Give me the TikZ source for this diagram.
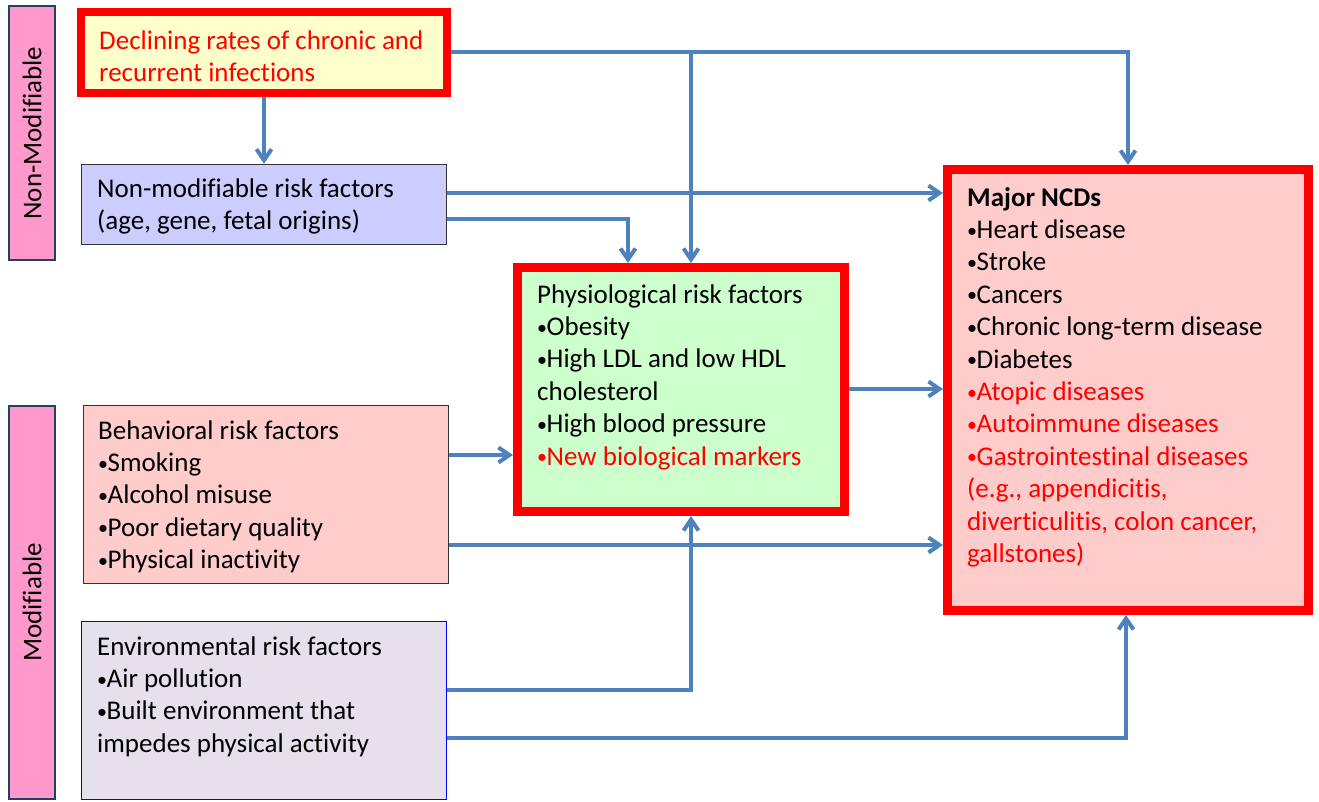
\documentclass[tikz,border=0pt]{standalone}
\usepackage{fontspec}
\setmainfont{Carlito}[Ligatures=NoCommon]
\usetikzlibrary{arrows.meta}
\definecolor{arrblue}{HTML}{4F81BD}
\definecolor{barpink}{HTML}{FF99CC}
\definecolor{barline}{HTML}{243F60}
\definecolor{declfill}{HTML}{FFFFCC}
\definecolor{nmfill}{HTML}{CCCCFF}
\definecolor{behfill}{HTML}{FFCCCC}
\definecolor{envfill}{HTML}{E6E0EC}
\definecolor{physfill}{HTML}{CCFFCC}
\definecolor{ncdfill}{HTML}{FFCCCC}
\definecolor{redtxt}{HTML}{FF0000}
\newcommand{\bul}{\makebox[9.5pt][l]{\raisebox{1.5pt}{\fontsize{20}{20}\selectfont •}}}
\begin{document}
\begin{tikzpicture}[x=1pt,y=-1pt,
  every node/.style={font=\fontsize{27}{32.4}\selectfont},
  txt/.style={anchor=north west, inner sep=0pt, align=left},
  sidebar/.style={draw=barline, line width=2pt, fill=barpink, rotate=90, minimum height=46pt, inner sep=0pt},
  boxbase/.style={inner sep=0pt},
  redbox/.style={boxbase, draw=red, line width=9pt},
  thinbox/.style={boxbase, draw=black!80, line width=1.5pt},
  arr/.style={draw=arrblue, line width=4pt, -{Straight Barb[length=11pt,width=15pt]}},
]
\useasboundingbox (0,0) rectangle (1319,802);

% side bars
\node[sidebar, minimum width=254pt] (nmbar) at (32,133) {Non-Modifiable};
\node[sidebar, minimum width=393pt] (mbar) at (32,602.5) {Modifiable};

% boxes
\node[redbox, line width=8pt, fill=declfill, minimum width=366pt, minimum height=81pt] (decl) at (264,52.5) {};
\node[thinbox, fill=nmfill, minimum width=365pt, minimum height=80pt] (nonmod) at (264,204.5) {};
\node[thinbox, fill=behfill, minimum width=365pt, minimum height=178pt] (behav) at (266,494.5) {};
\node[boxbase, draw=blue, line width=1.5pt, fill=envfill, minimum width=365pt, minimum height=178pt] (env) at (264,710.5) {};
\node[redbox, fill=physfill, minimum width=327pt, minimum height=244pt] (phys) at (681,389.5) {};
\node[redbox, fill=ncdfill, minimum width=361pt, minimum height=441pt] (ncd) at (1128,390) {};

% texts
\node[txt, text=redtxt] (declt) at (99,26.3) {\strut Declining rates of chronic and\\recurrent infections};
\node[txt] (nonmodt) at (97,174.3) {\strut Non-modifiable risk factors\\(age, gene, fetal origins)};
\node[txt] (behavt) at (98,416.3) {\strut Behavioral risk factors\\\bul Smoking\\\bul Alcohol misuse\\\bul Poor dietary quality\\\bul Physical inactivity};
\node[txt] (envt) at (97,632.3) {\strut Environmental risk factors\\\bul Air pollution\\\bul Built environment that\\impedes physical activity};
\node[txt] (physt) at (537,280.3) {\strut Physiological risk factors\\\bul Obesity\\\bul High LDL and low HDL\\cholesterol\\\bul High blood pressure\\\textcolor{redtxt}{\bul New biological markers}};
\node[txt] (ncdt) at (967,183.3) {\strut\textbf{Major NCDs}\\\bul Heart disease\\\bul Stroke\\\bul Cancers\\\bul Chronic long-term disease\\\bul Diabetes\\\textcolor{redtxt}{\bul Atopic diseases}\\\textcolor{redtxt}{\bul Autoimmune diseases}\\\textcolor{redtxt}{\bul Gastrointestinal diseases}\\\textcolor{redtxt}{(e.g., appendicitis,}\\\textcolor{redtxt}{diverticulitis, colon cancer,}\\\textcolor{redtxt}{gallstones)}};

% connectors
\coordinate (j1) at (691,52.5);
\draw[arr] (decl.east) -| (ncd.north);
\draw[arr] (decl.south) -- (nonmod.north);
\draw[arr] (j1) -- (j1 |- phys.north);
\draw[arr] (nonmod.east |- 0,193) -- (ncd.west |- 0,193);
\draw[arr] (nonmod.east |- 0,219) -| (phys.north -| 628,0);
\draw[arr] (phys.east |- 0,389) -- (ncd.west |- 0,389);
\draw[arr] (behav.east |- 0,455) -- (phys.west |- 0,455);
\draw[arr] (behav.east |- 0,545) -- (ncd.west |- 0,545);
\draw[arr] (env.east |- 0,690) -| (phys.south -| 691,0);
\draw[arr] (env.east |- 0,738) -| (ncd.south -| 1126,0);
\end{tikzpicture}
\end{document}
